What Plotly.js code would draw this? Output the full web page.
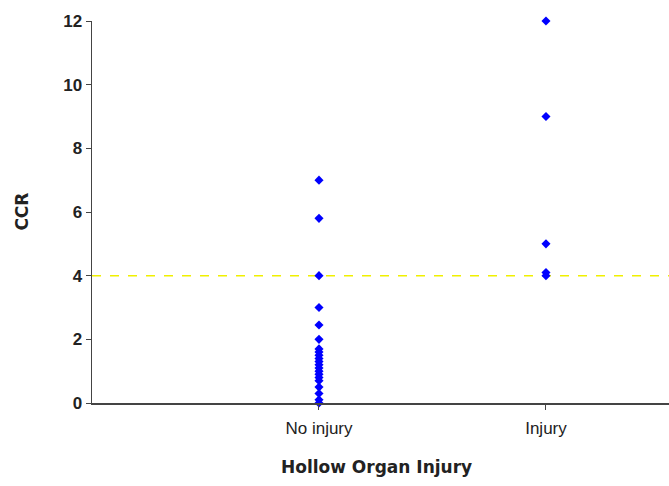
<!DOCTYPE html>
<html>
<head>
<meta charset="utf-8">
<script src="https://cdn.plot.ly/plotly-3.0.1.min.js"></script>
<style>html,body{margin:0;padding:0;background:#fff;}#chart{width:669px;height:486px;}</style>
</head>
<body>
<div id="chart"></div>
<script>
var categories = ["No injury", "Injury"];
var noInjuryValues = [7.0, 5.8, 4.0, 3.0, 2.45, 2.0, 1.7, 1.6, 1.5, 1.4, 1.3, 1.2, 1.1, 1.0, 0.9, 0.8, 0.7, 0.5, 0.3, 0.1, 0.0];
var injuryValues = [12.0, 9.0, 5.0, 4.1, 4.0];
var cutoffValue = [4];
var yTicks = [0, 2, 4, 6, 8, 10, 12];

var seriesValues = [noInjuryValues, injuryValues];
var xs = [], ys = [];
seriesValues.forEach(function (vals, i) {
  vals.forEach(function (v) { xs.push(i); ys.push(v); });
});

var font = {family: "Liberation Sans, Arial, sans-serif", color: "#222"};
var wideFont = {family: "DejaVu Sans, sans-serif", color: "#222"};

var data = [{
  type: "scatter",
  mode: "markers",
  x: xs,
  y: ys,
  cliponaxis: false,
  marker: {symbol: "diamond", size: 7, color: "#0000ff", line: {width: 0}},
  hoverinfo: "y"
}];

var layout = {
  width: 669,
  height: 486,
  margin: {l: 92, r: 0, t: 21, b: 83},
  paper_bgcolor: "#fff",
  plot_bgcolor: "#fff",
  showlegend: false,
  xaxis: {
    range: [-1, 1.542],
    tickmode: "array",
    tickvals: categories.map(function (c, i) { return i; }),
    ticktext: categories,
    showgrid: false,
    zeroline: false,
    showline: true,
    linecolor: "#444",
    linewidth: 1.5,
    ticks: "outside",
    ticklen: 5,
    tickcolor: "#444",
    ticklabelstandoff: 4,
    tickfont: Object.assign({size: 17}, font)
  },
  yaxis: {
    range: [0, 12],
    tickmode: "array",
    tickvals: yTicks,
    showgrid: false,
    zeroline: false,
    showline: true,
    linecolor: "#444",
    linewidth: 1.5,
    ticks: "outside",
    ticklen: 5,
    tickcolor: "#444",
    tickfont: Object.assign({size: 17, weight: "bold"}, font)
  },
  shapes: cutoffValue.map(function (v) {
    return {type: "line", xref: "paper", x0: 0, x1: 1, yref: "y", y0: v, y1: v,
      line: {color: "#f0f000", width: 1.5, dash: "dash"}, layer: "below"};
  }),
  annotations: [
    {text: "<b>Hollow Organ Injury</b>", xref: "paper", yref: "paper", x: (376 - 92) / 577, y: -0.167,
      xanchor: "center", yanchor: "middle", showarrow: false, font: Object.assign({size: 17}, wideFont)},
    {text: "<b>CCR</b>", xref: "paper", yref: "paper", x: -0.122, y: (403 - 212) / 382,
      xanchor: "center", yanchor: "middle", textangle: -90, showarrow: false, font: Object.assign({size: 17}, wideFont)}
  ]
};

Plotly.newPlot("chart", data, layout, {displayModeBar: false, staticPlot: true});
</script>
</body>
</html>
